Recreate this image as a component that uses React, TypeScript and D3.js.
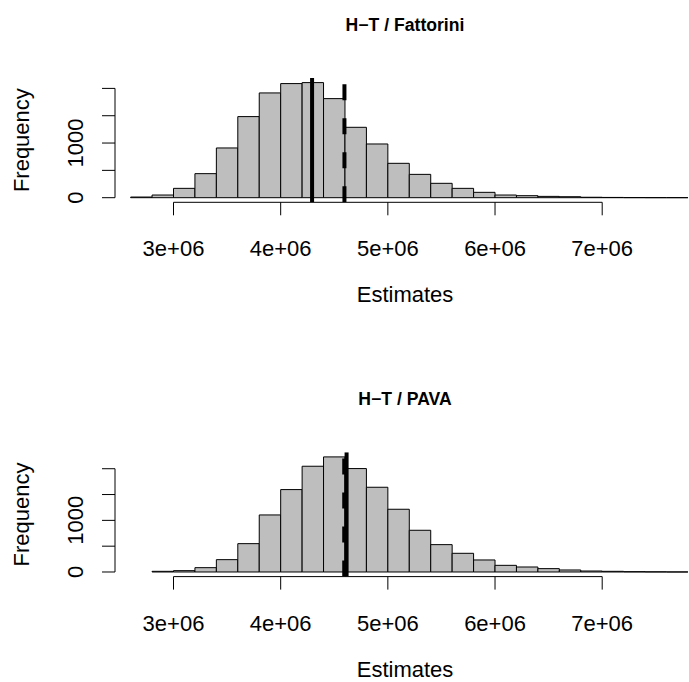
import React from "react";
import * as d3 from "d3";

// ---- data ----
const binWidth = 0.2e6;
const topStart = 2.6e6;
const topCounts = [12, 49, 171, 440, 910, 1484, 1917, 2088, 2106, 1813, 1288, 983, 629, 427, 263, 171, 98, 49, 37, 24, 18, 8, 5, 2, 1, 1];
const bottomStart = 2.8e6;
const bottomCounts = [13, 26, 84, 239, 549, 1105, 1596, 2048, 2229, 2003, 1641, 1215, 808, 530, 362, 233, 129, 97, 65, 39, 19, 13, 6, 3, 1];
const xTicks = [3e6, 4e6, 5e6, 6e6, 7e6];
const xTickLabels = ["3e+06", "4e+06", "5e+06", "6e+06", "7e+06"];
const yTicks = [0, 500, 1000, 1500, 2000];
const yLabelled = [0, 1000];
const titles = ["H\u2212T / Fattorini", "H\u2212T / PAVA"];
const solidValues = [4.293e6, 4.615e6];
const dashedValues = [4.595e6, 4.593e6];

// ---- layout ----
const W = 689;
const H = 682;
const plotLeft = 115;
const plotRight = 695;
const panelTop = 78;
const panelBottom = 202.3;
const panelOffset = 374.3;
const FONT = "'Liberation Sans', Arial, Helvetica, sans-serif";

const x = d3.scaleLinear().domain([3e6, 7e6]).range([173.5, 602.2]);

function Panel({ idx, counts, start }: { idx: number; counts: number[]; start: number }) {
  const dy = idx * panelOffset;
  const top = panelTop + dy;
  const bottom = panelBottom + dy;
  const maxC = d3.max(counts) as number;
  const y = d3.scaleLinear().domain([-0.04 * maxC, 1.04 * maxC]).range([bottom, top]);
  const clipId = `clip${idx}`;
  const cx = (plotLeft + plotRight) / 2;
  const cy = (top + bottom) / 2;
  return (
    <g>
      <defs>
        <clipPath id={clipId}>
          <rect x={plotLeft} y={top} width={plotRight - plotLeft} height={bottom - top} />
        </clipPath>
      </defs>
      <g clipPath={`url(#${clipId})`}>
        {counts.map((c, i) => {
          const x0 = x(start + i * binWidth);
          const x1 = x(start + (i + 1) * binWidth);
          const y0 = y(0);
          const y1 = y(c);
          return (
            <path
              key={i}
              d={`M${x0},${y0}V${y1}H${x1}V${y0}Z`}
              fill="#BEBEBE"
              stroke="#000"
              strokeWidth={1}
            />
          );
        })}
        <line
          x1={x(solidValues[idx])}
          x2={x(solidValues[idx])}
          y1={bottom}
          y2={top}
          stroke="#000"
          strokeWidth={4}
        />
        <line
          x1={x(dashedValues[idx])}
          x2={x(dashedValues[idx])}
          y1={bottom}
          y2={top}
          stroke="#000"
          strokeWidth={4}
          strokeDasharray="16,18"
        />
      </g>
      {/* x axis */}
      <line x1={x(xTicks[0])} x2={x(xTicks[xTicks.length - 1])} y1={bottom} y2={bottom} stroke="#000" strokeWidth={1} />
      {xTicks.map((t, i) => (
        <g key={t}>
          <line x1={x(t)} x2={x(t)} y1={bottom} y2={bottom + 13} stroke="#000" strokeWidth={1} />
          <text x={x(t)} y={bottom + 54} textAnchor="middle" fontFamily={FONT} fontSize={22}>
            {xTickLabels[i]}
          </text>
        </g>
      ))}
      {/* y axis */}
      <line x1={plotLeft} x2={plotLeft} y1={y(yTicks[0])} y2={y(yTicks[yTicks.length - 1])} stroke="#000" strokeWidth={1} />
      {yTicks.map((t) => (
        <line key={t} x1={plotLeft} x2={plotLeft - 13} y1={y(t)} y2={y(t)} stroke="#000" strokeWidth={1} />
      ))}
      {yLabelled.map((t) => (
        <text
          key={t}
          transform={`translate(${plotLeft - 31.7},${y(t)}) rotate(-90)`}
          textAnchor="middle"
          fontFamily={FONT}
          fontSize={22}
        >
          {String(t)}
        </text>
      ))}
      {/* axis titles */}
      <text x={cx} y={bottom + 100} textAnchor="middle" fontFamily={FONT} fontSize={22}>
        Estimates
      </text>
      <text transform={`translate(28.7,${cy}) rotate(-90)`} textAnchor="middle" fontFamily={FONT} fontSize={22}>
        Frequency
      </text>
      <text x={cx} y={top - 47} textAnchor="middle" fontFamily={FONT} fontSize={17.6} fontWeight="bold">
        {titles[idx]}
      </text>
    </g>
  );
}

export default function App() {
  return (
    <svg
      width={W}
      height={H}
      viewBox={`0 0 ${W} ${H}`}
      style={{ position: "absolute", left: 0, top: 0, background: "#fff" }}
    >
      <rect x={0} y={0} width={W} height={H} fill="#fff" />
      <Panel idx={0} counts={topCounts} start={topStart} />
      <Panel idx={1} counts={bottomCounts} start={bottomStart} />
    </svg>
  );
}
